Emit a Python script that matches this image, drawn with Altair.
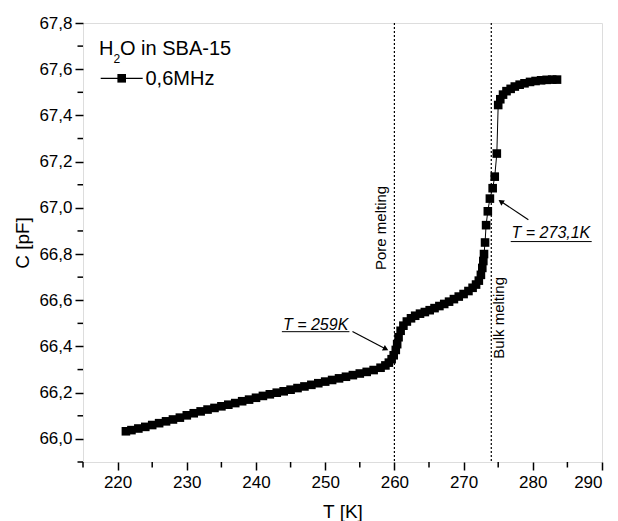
import altair as alt
import pandas as pd

# ---- data ----
T_K = [221.2, 222.0, 223.0, 224.0, 225.0, 226.0, 227.0, 228.0, 229.0, 230.0,
       231.0, 232.0, 233.0, 234.0, 235.0, 236.0, 237.0, 238.0, 239.0, 240.0,
       241.0, 242.0, 243.0, 244.0, 245.0, 246.0, 247.0, 248.0, 249.0, 250.0,
       251.0, 252.0, 253.0, 254.0, 255.0, 256.0, 257.0, 258.0, 258.7, 259.2,
       259.6, 259.9, 260.2, 260.4, 260.6, 260.9, 261.3, 261.8, 262.4, 263.0,
       263.7, 264.4, 265.1, 265.8, 266.5, 267.2, 267.9, 268.6, 269.3, 270.0,
       270.7, 271.3, 271.8, 272.2, 272.5, 272.7, 272.85, 272.95, 273.1, 273.25,
       273.5, 273.8, 274.2, 274.5, 274.8, 275.0, 275.3, 275.7, 276.2, 276.8,
       277.4, 278.1, 278.8, 279.6, 280.4, 281.2, 282.0, 282.8, 283.5]
C_pF = [66.033, 66.038, 66.045, 66.052, 66.060, 66.068, 66.076, 66.084, 66.092, 66.102,
        66.111, 66.119, 66.127, 66.134, 66.141, 66.148, 66.155, 66.163, 66.170, 66.178,
        66.186, 66.193, 66.200, 66.206, 66.213, 66.220, 66.227, 66.234, 66.241, 66.248,
        66.255, 66.262, 66.269, 66.276, 66.283, 66.290, 66.298, 66.308, 66.318, 66.330,
        66.345, 66.362, 66.385, 66.410, 66.440, 66.468, 66.490, 66.508, 66.522, 66.533,
        66.542, 66.549, 66.557, 66.566, 66.575, 66.584, 66.594, 66.605, 66.616, 66.627,
        66.640, 66.654, 66.668, 66.685, 66.710, 66.740, 66.770, 66.800, 66.850, 66.925,
        66.985, 67.040, 67.085, 67.135, 67.235, 67.445, 67.470, 67.490, 67.505, 67.515,
        67.525, 67.533, 67.539, 67.545, 67.549, 67.552, 67.554, 67.555, 67.555]

x_major = [220, 230, 240, 250, 260, 270, 280, 290]
x_minor = [215, 225, 235, 245, 255, 265, 275, 285]
y_major = [66.0, 66.2, 66.4, 66.6, 66.8, 67.0, 67.2, 67.4, 67.6, 67.8]
y_minor = [65.9, 66.1, 66.3, 66.5, 66.7, 66.9, 67.1, 67.3, 67.5, 67.7]

melting_T = [260, 274]
melting_labels = ["Pore melting", "Bulk melting"]

series_label = "0,6MHz"
sample_label = "O in SBA-15"
x_title = "T [K]"
y_title = "C [pF]"

FONT = "Liberation Sans"

df = pd.DataFrame({"T": T_K, "C": C_pF})

xscale = alt.Scale(domain=[215, 290], nice=False, zero=False)
yscale = alt.Scale(domain=[65.9, 67.8], nice=False, zero=False)

x_axis = alt.Axis(
    values=x_major, title=x_title, domain=False, grid=False, format="d",
    tickColor="black", tickWidth=1.5, tickSize=8, labelOverlap=False,
    labelFont=FONT, labelFontSize=17, labelColor="black", labelPadding=4,
    titleFont=FONT, titleFontSize=19, titleFontWeight="normal", titleColor="black",
    titleBaseline="middle", titleY=49, titleX=259.5, titleAlign="center",
)
y_axis = alt.Axis(
    values=y_major, title=y_title, domain=False, grid=False,
    tickColor="black", tickWidth=1.5, tickSize=8, labelOverlap=False,
    labelExpr="replace(format(datum.value, '.1f'), '.', ',')",
    labelFont=FONT, labelFontSize=17, labelColor="black", labelPadding=3,
    titleFont=FONT, titleFontSize=19, titleFontWeight="normal", titleColor="black",
    titleAngle=270, titleBaseline="middle", titleAlign="center", titleX=-61, titleY=219.5,
)

base = alt.Chart(df)

line = base.mark_line(color="black", strokeWidth=1).encode(
    x=alt.X("T:Q", scale=xscale, axis=x_axis),
    y=alt.Y("C:Q", scale=yscale, axis=y_axis),
)
points = base.mark_point(shape="square", filled=True, size=74, color="black", opacity=1).encode(
    x=alt.X("T:Q", scale=xscale),
    y=alt.Y("C:Q", scale=yscale),
)

# minor ticks (outside the frame)
xminor = alt.Chart(pd.DataFrame({"T": x_minor})).mark_rule(color="black", strokeWidth=1.5).encode(
    x=alt.X("T:Q", scale=xscale), y=alt.value(439), y2=alt.value(444.5)
)
yminor = alt.Chart(pd.DataFrame({"C": y_minor})).mark_rule(color="black", strokeWidth=1.5).encode(
    y=alt.Y("C:Q", scale=yscale), x=alt.value(0), x2=alt.value(-5.5)
)

vlines = alt.Chart(pd.DataFrame({"T": melting_T})).mark_rule(
    color="black", strokeWidth=1.2, strokeDash=[2, 2]
).encode(x=alt.X("T:Q", scale=xscale))

vlabels = alt.Chart(pd.DataFrame({
    "T": [258.08, 275.12], "C": [66.913, 66.524], "label": melting_labels
})).mark_text(angle=270, font=FONT, fontSize=15, color="black", align="center", baseline="middle").encode(
    x=alt.X("T:Q", scale=xscale), y=alt.Y("C:Q", scale=yscale), text="label:N"
)

# annotations T = ...
ann_text = alt.Chart(pd.DataFrame({
    "T": [248.62, 282.62], "C": [66.471, 66.868], "label": ["T = 259K", "T = 273,1K"]
})).mark_text(font=FONT, fontSize=16, fontStyle="italic", color="black", align="center",
              baseline="alphabetic").encode(
    x=alt.X("T:Q", scale=xscale), y=alt.Y("C:Q", scale=yscale), text="label:N"
)
underline = alt.Chart(pd.DataFrame({
    "T": [243.74, 276.81], "T2": [253.5, 288.51], "C": [66.464, 66.854]
})).mark_rule(color="black", strokeWidth=1).encode(
    x=alt.X("T:Q", scale=xscale), x2="T2:Q", y=alt.Y("C:Q", scale=yscale)
)
shafts = alt.Chart(pd.DataFrame({
    "T": [253.94, 279.36], "C": [66.465, 66.948], "T2": [258.9, 275.3], "C2": [66.387, 67.030]
})).mark_rule(color="black", strokeWidth=1.2).encode(
    x=alt.X("T:Q", scale=xscale), y=alt.Y("C:Q", scale=yscale), x2="T2:Q", y2="C2:Q"
)
heads = alt.Chart(pd.DataFrame({
    "T": [258.76, 275.38], "C": [66.389, 67.027], "ang": [27.8, 213.7]
})).mark_point(shape="triangle-right", filled=True, size=40, color="black", opacity=1).encode(
    x=alt.X("T:Q", scale=xscale), y=alt.Y("C:Q", scale=yscale), angle=alt.Angle("ang:Q", scale=None)
)

# legend (pixel positions inside the plot area)
one = pd.DataFrame({"k": [0]})
leg_H = alt.Chart(one).mark_text(text="H", font=FONT, fontSize=20, color="black", align="left",
                                 baseline="alphabetic").encode(x=alt.value(16), y=alt.value(31.7))
leg_2 = alt.Chart(one).mark_text(text="2", font=FONT, fontSize=12, color="black", align="left",
                                 baseline="alphabetic").encode(x=alt.value(30.5), y=alt.value(39.7))
leg_O = alt.Chart(one).mark_text(text=sample_label, font=FONT, fontSize=20, color="black", align="left",
                                 baseline="alphabetic").encode(x=alt.value(37), y=alt.value(31.7))
leg_line = alt.Chart(one).mark_rule(color="black", strokeWidth=1.2).encode(
    x=alt.value(17.7), x2=alt.value(59.7), y=alt.value(55.3))
leg_sq = alt.Chart(one).mark_point(shape="square", filled=True, size=74, color="black", opacity=1).encode(
    x=alt.value(38.7), y=alt.value(55.3))
leg_txt = alt.Chart(one).mark_text(text=series_label, font=FONT, fontSize=20, color="black", align="left",
                                   baseline="alphabetic").encode(x=alt.value(62.5), y=alt.value(62))

chart = alt.layer(
    vlines, line, points, xminor, yminor, vlabels, ann_text, underline, shafts, heads,
    leg_H, leg_2, leg_O, leg_line, leg_sq, leg_txt
).properties(
    width=519, height=439,
    padding={"left": 83, "top": 23, "right": 16, "bottom": 59},
    autosize=alt.AutoSizeParams(type="none"),
).configure_view(
    stroke="black", strokeWidth=2
).configure(background="white")

chart.save("out.html", embed_options={"renderer": "svg", "actions": False})
